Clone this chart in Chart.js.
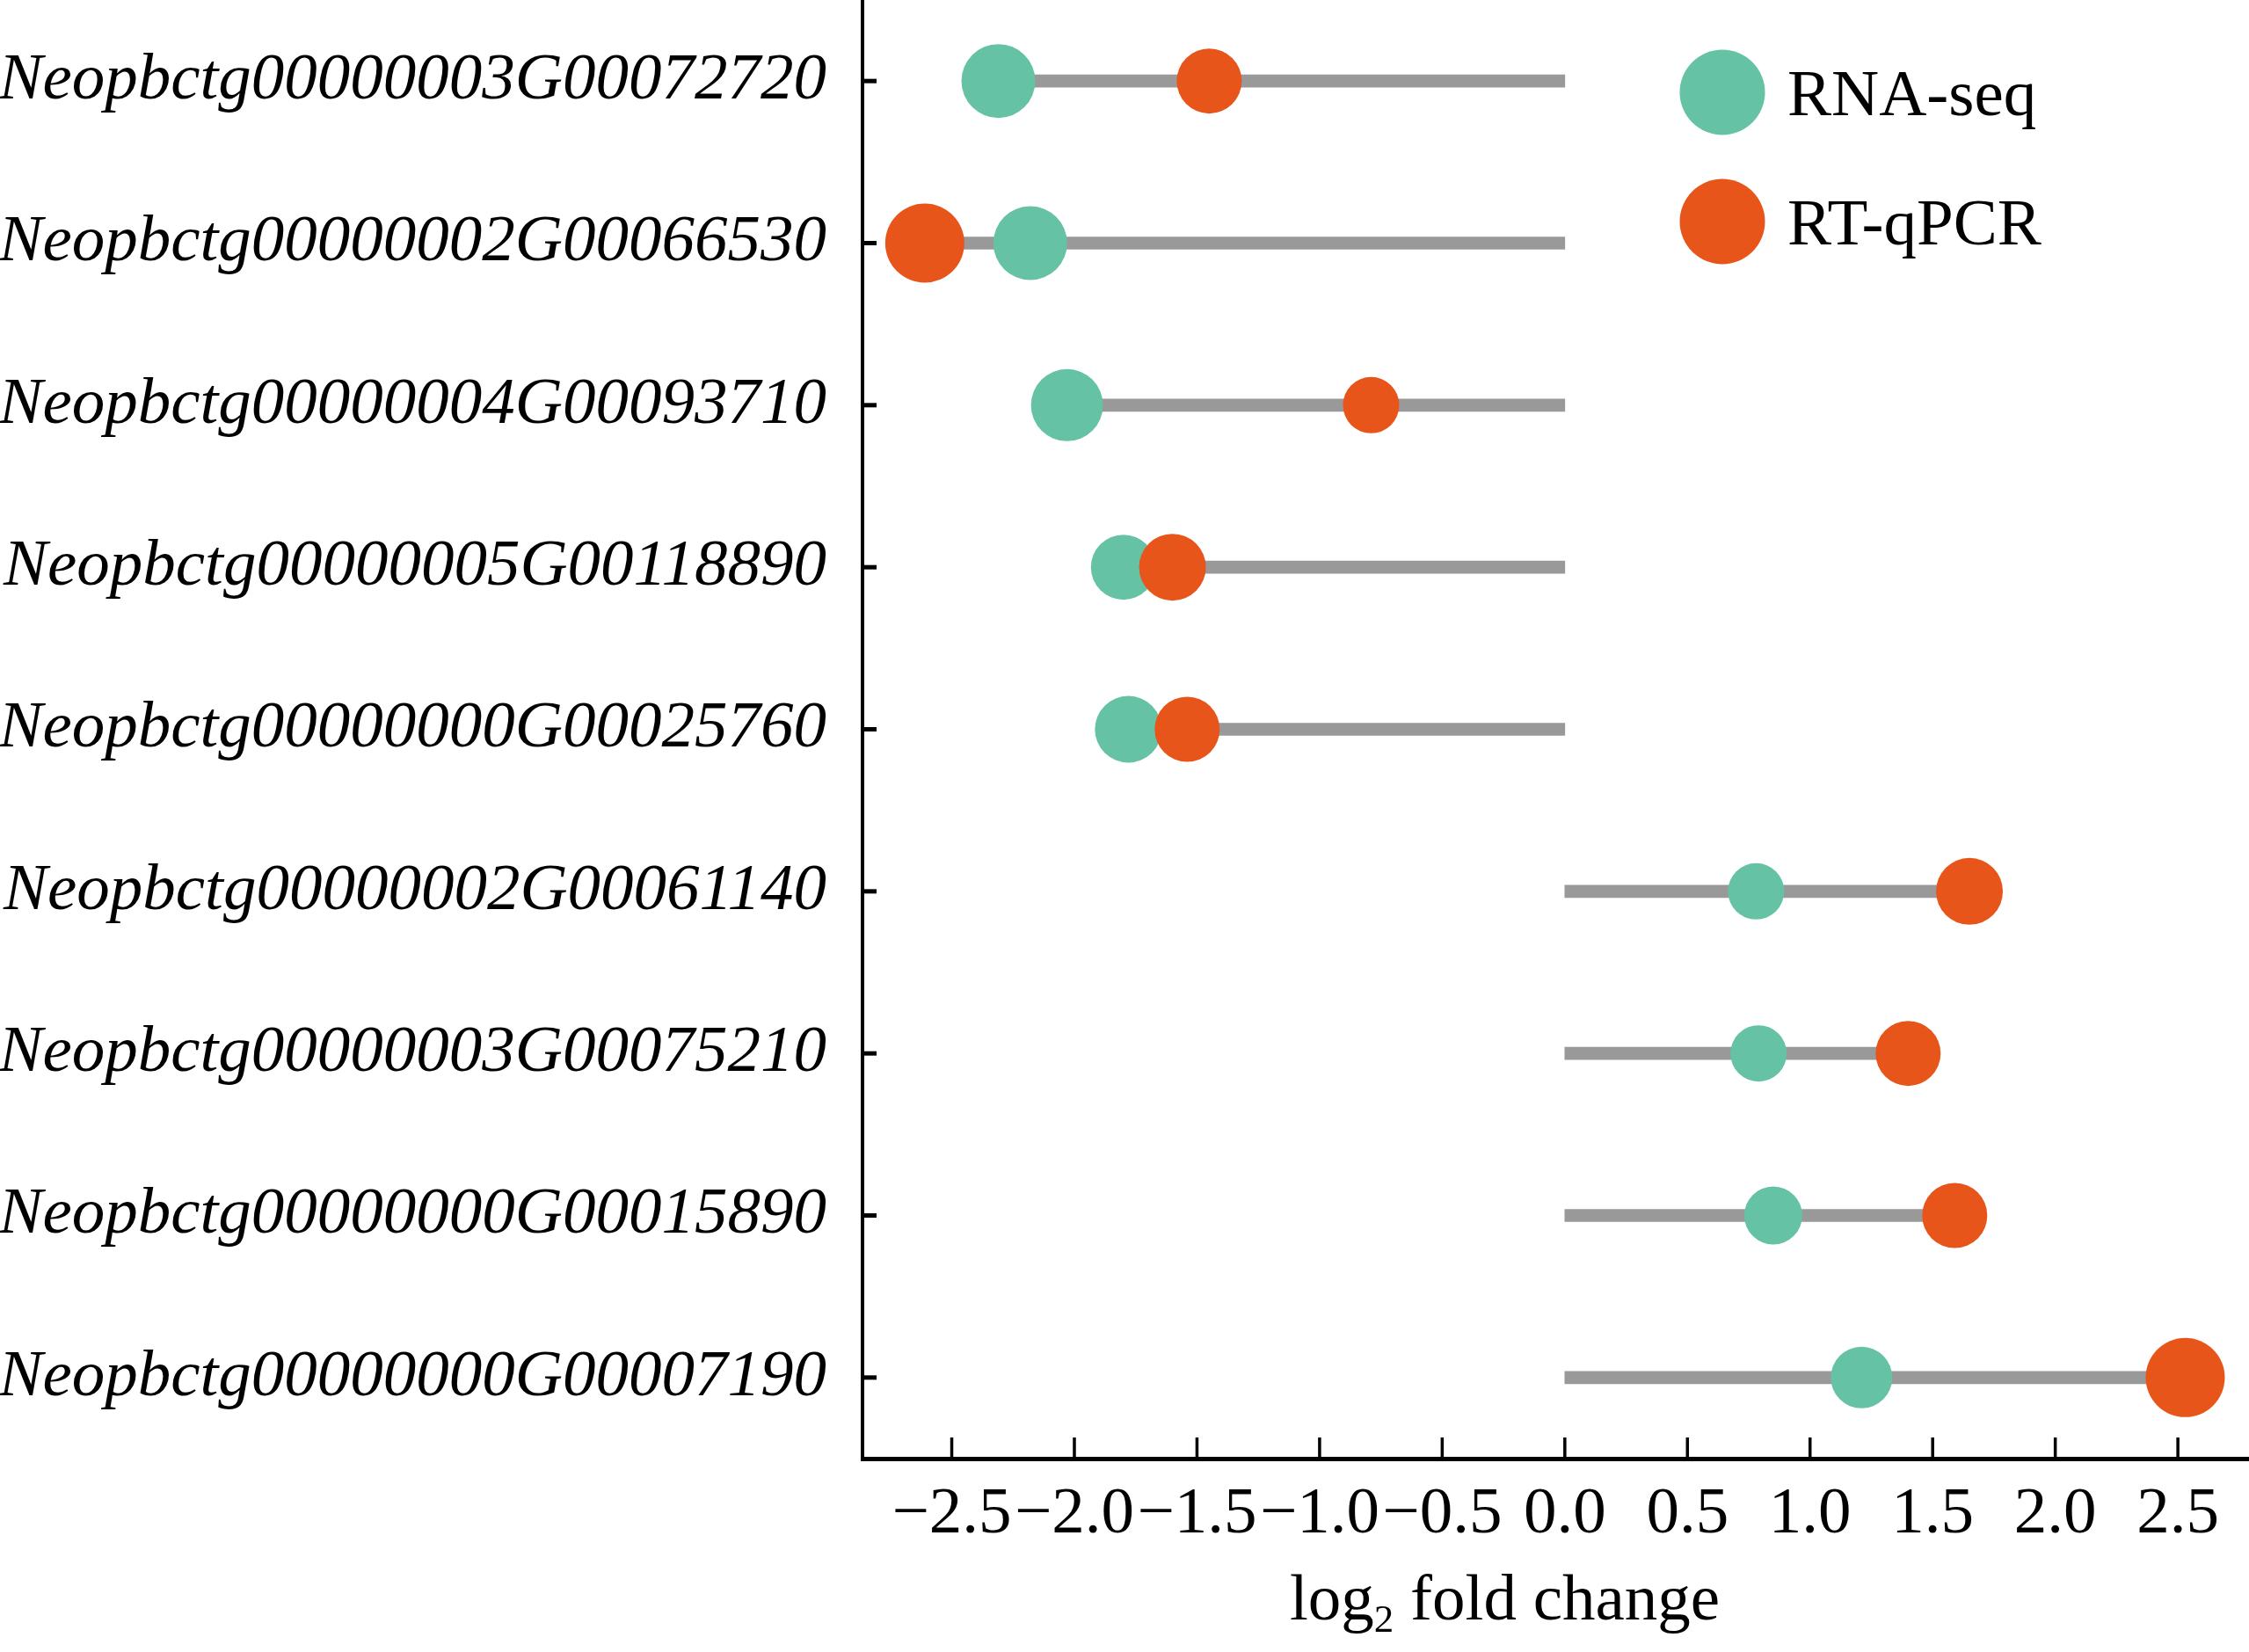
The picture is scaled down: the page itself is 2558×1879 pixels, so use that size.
<!DOCTYPE html>
<html>
<head>
<meta charset="UTF-8">
<title>RNA-seq vs RT-qPCR</title>
<script src="https://cdn.jsdelivr.net/npm/chart.js@4.4.1/dist/chart.umd.min.js"></script>
<style>
    html, body { margin: 0; padding: 0; background: #fff; }
    #wrap { width: 2558px; height: 1879px; }
</style>
</head>
<body>
<div id="wrap"><canvas id="chart" width="2558" height="1879"></canvas></div>
<script>
    // data (log2 fold change)
    const genes = [
        'Neopbctg00000003G00072720',
        'Neopbctg00000002G00066530',
        'Neopbctg00000004G00093710',
        'Neopbctg00000005G00118890',
        'Neopbctg00000000G00025760',
        'Neopbctg00000002G00061140',
        'Neopbctg00000003G00075210',
        'Neopbctg00000000G00015890',
        'Neopbctg00000000G00007190'
    ];
    const rnaSeq = [-2.31, -2.18, -2.03, -1.80, -1.78, 0.78, 0.79, 0.85, 1.21];
    const rtQpcr = [-1.45, -2.61, -0.79, -1.60, -1.54, 1.65, 1.40, 1.59, 2.53];
    const xTickValues = [-2.5, -2.0, -1.5, -1.0, -0.5, 0.0, 0.5, 1.0, 1.5, 2.0, 2.5];

    // marker radius (px) per point, as drawn in the figure
    const rnaRadius = [42, 42, 41, 37, 38, 32, 32, 33, 35];
    const qpcrRadius = [37, 45, 32, 38, 37, 38, 37, 37, 45];

    const GREEN = '#66c2a5';
    const ORANGE = '#e8551a';
    const GREY = '#999999';
    const FONT = "'Liberation Serif', 'DejaVu Serif', serif";

    // grey stem runs from 0 to whichever value lies farther out
    const stems = rnaSeq.map((v, i) => [0, Math.abs(v) > Math.abs(rtQpcr[i]) ? v : rtQpcr[i]]);

    const fmt = v => {
        if (Math.abs(v) < 1e-9) return '0.0';
        return (v < 0 ? '\u2212' : '') + Math.abs(v).toFixed(1);
    };

    // inward ticks, legend and the x title with a subscript
    const decor = {
        id: 'decor',
        afterDraw(chart) {
            const ctx = chart.ctx;
            const xs = chart.scales.x, ys = chart.scales.y;
            const area = chart.chartArea;
            ctx.save();
            ctx.strokeStyle = '#000';
            ctx.lineWidth = 3.5;
            xs.ticks.forEach((t, i) => {
                const px = xs.getPixelForTick(i);
                ctx.beginPath();
                ctx.moveTo(px, area.bottom);
                ctx.lineTo(px, area.bottom - 24);
                ctx.stroke();
            });
            ctx.lineWidth = 5;
            ys.ticks.forEach((t, i) => {
                const py = ys.getPixelForTick(i);
                ctx.beginPath();
                ctx.moveTo(area.left, py);
                ctx.lineTo(area.left + 16, py);
                ctx.stroke();
            });

            // legend
            const items = [
                { label: chart.data.datasets[1].label, color: GREEN, y: 105 },
                { label: chart.data.datasets[2].label, color: ORANGE, y: 252 }
            ];
            ctx.font = '75px ' + FONT;
            ctx.textBaseline = 'alphabetic';
            ctx.textAlign = 'left';
            items.forEach(it => {
                ctx.fillStyle = it.color;
                ctx.beginPath();
                ctx.arc(1959, it.y, 48.5, 0, Math.PI * 2);
                ctx.fill();
                ctx.fillStyle = '#000';
                ctx.fillText(it.label, 2033, it.y + 26);
            });

            // x axis title: log2 fold change
            let tx = 1467;
            const base = 1842;
            ctx.fillStyle = '#000';
            ctx.font = '75px ' + FONT;
            ctx.fillText('log', tx, base);
            tx += ctx.measureText('log').width;
            ctx.font = '45px ' + FONT;
            ctx.fillText('2', tx, base + 14);
            tx += ctx.measureText('2').width;
            ctx.font = '75px ' + FONT;
            ctx.fillText(' fold change', tx, base);
            ctx.restore();
        }
    };

    Chart.defaults.font.family = FONT;
    Chart.defaults.color = '#000';

    new Chart(document.getElementById('chart'), {
        type: 'bar',
        data: {
            labels: genes,
            datasets: [
                {
                    label: 'stem',
                    data: stems,
                    backgroundColor: GREY,
                    barThickness: 14,
                    borderWidth: 0,
                    order: 3
                },
                {
                    type: 'line',
                    label: 'RNA-seq',
                    data: rnaSeq,
                    indexAxis: 'y',
                    showLine: false,
                    pointRadius: rnaRadius,
                    pointHoverRadius: rnaRadius,
                    pointBackgroundColor: GREEN,
                    pointBorderWidth: 0,
                    borderColor: GREEN,
                    clip: false,
                    order: 2
                },
                {
                    type: 'line',
                    label: 'RT-qPCR',
                    data: rtQpcr,
                    indexAxis: 'y',
                    showLine: false,
                    pointRadius: qpcrRadius,
                    pointHoverRadius: qpcrRadius,
                    pointBackgroundColor: ORANGE,
                    pointBorderWidth: 0,
                    borderColor: ORANGE,
                    clip: false,
                    order: 1
                }
            ]
        },
        options: {
            indexAxis: 'y',
            responsive: false,
            animation: false,
            layout: { padding: 0, autoPadding: false },
            plugins: {
                legend: { display: false },
                tooltip: { enabled: false }
            },
            scales: {
                x: {
                    type: 'linear',
                    min: -2.864,
                    max: 2.79,
                    grid: { display: false, drawTicks: false },
                    border: { display: true, color: '#000', width: 5 },
                    afterBuildTicks: s => { s.ticks = xTickValues.map(v => ({ value: v })); },
                    ticks: {
                        padding: 27,
                        maxRotation: 0,
                        autoSkip: false,
                        font: { size: 75, lineHeight: 1 },
                        callback: v => fmt(v)
                    },
                    afterFit: s => { s.height = 220; s.paddingLeft = 0; s.paddingRight = 0; }
                },
                y: {
                    type: 'category',
                    offset: true,
                    grid: { display: false, drawTicks: false },
                    border: { display: true, color: '#000', width: 4 },
                    ticks: {
                        padding: 41,
                        autoSkip: false,
                        font: { size: 75, style: 'italic', lineHeight: 1 }
                    },
                    afterFit: s => { s.width = 981; s.paddingTop = 0; s.paddingBottom = 0; }
                }
            }
        },
        plugins: [decor]
    });
</script>
</body>
</html>
